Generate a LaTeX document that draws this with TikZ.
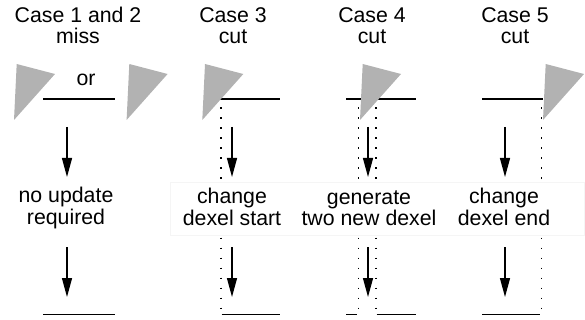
\documentclass[tikz,border=0pt]{standalone}
\usepackage{fontspec}
\setmainfont{Liberation Sans}
\usetikzlibrary{arrows.meta}
\begin{document}
\begin{tikzpicture}[x=1pt,y=-1pt,
  lbl/.style={align=center,font=\fontsize{21.3}{21.3}\selectfont,inner sep=0pt},
  dexel/.style={line width=1.8pt},
  cutline/.style={line width=1.5pt,dash pattern=on 1.5pt off 8.5pt},
  tool/.style={fill=black!30,draw=none},
  flow/.style={line width=1.3pt,-{Triangle[length=19pt,width=10pt]}},
  panel/.style={fill=white,draw=black!4,line width=0.5pt}]
\useasboundingbox (0,0) rectangle (585,320);

% ---- dotted cut lines
\coordinate (c3t) at (221,107.5);   \coordinate (c3b) at (221,312);
\coordinate (c4at) at (358.7,107.5); \coordinate (c4ab) at (358.7,312);
\coordinate (c4bt) at (376,107.5);   \coordinate (c4bb) at (376,312);
\coordinate (c5t) at (541.7,107.5);  \coordinate (c5b) at (541.7,312);
\draw[cutline] (c3t) -- (c3b);
\draw[cutline] (c4at) -- (c4ab);
\draw[cutline] (c4bt) -- (c4bb);
\draw[cutline] (c5t) -- (c5b);

% ---- white panel behind middle labels
\coordinate (pnw) at (170,182);
\coordinate (pse) at (584,235);
\draw[panel] (pnw) rectangle (pse);

% ---- headers
\node[lbl] (h1) at (78,25.5) {Case 1 and 2\\miss};
\node[lbl] (h3) at (233,25.5) {Case 3\\cut};
\node[lbl] (h4) at (372,25.5) {Case 4\\cut};
\node[lbl] (h5) at (515,25.5) {Case 5\\cut};

% ---- top dexels
\coordinate (t1s) at (43,99.2);  \coordinate (t1e) at (115,99.2);
\coordinate (t3s) at (220,99.2); \coordinate (t3e) at (280,99.2);
\coordinate (t4s) at (346,99.2); \coordinate (t4e) at (416,99.2);
\coordinate (t5s) at (482,99.2); \coordinate (t5e) at (543,99.2);
\draw[dexel] (t1s) -- (t1e);
\draw[dexel] (t3s) -- (t3e);
\draw[dexel] (t4s) -- (t4e);
\draw[dexel] (t5s) -- (t5e);
\node[lbl,anchor=base] (or) at (86,86) {or};

% ---- tools (triangles)
\fill[tool] (16.7,64) -- ++(38.3,10) -- ++(-41,46) -- cycle;
\fill[tool] (129.3,64) -- ++(38.3,10) -- ++(-41,46) -- cycle;
\fill[tool] (205,64) -- ++(38.3,10) -- ++(-41,46) -- cycle;
\fill[tool] (362.7,64) -- ++(38.3,10) -- ++(-41,46) -- cycle;
\fill[tool] (545.7,64) -- ++(38.3,10) -- ++(-41,46) -- cycle;

% ---- top arrows
\coordinate (a1t) at (67,127);  \coordinate (a1b) at (67,177);
\coordinate (a3t) at (232,127); \coordinate (a3b) at (232,177);
\coordinate (a4t) at (368,127); \coordinate (a4b) at (368,177);
\coordinate (a5t) at (505,127); \coordinate (a5b) at (505,177);
\draw[flow] (a1t) -- (a1b);
\draw[flow] (a3t) -- (a3b);
\draw[flow] (a4t) -- (a4b);
\draw[flow] (a5t) -- (a5b);

% ---- middle labels
\node[lbl] (m1) at (66,208) {no update\\required};
\node[lbl] (m3) at (232,207) {change\\dexel start};
\node[lbl] (m4) at (369,208) {generate\\two new dexel};
\node[lbl] (m5) at (504,207) {change\\dexel end};

% ---- bottom arrows
\coordinate (b1t) at (67,247);  \coordinate (b1b) at (67,297);
\coordinate (b3t) at (232,247); \coordinate (b3b) at (232,297);
\coordinate (b4t) at (368,247); \coordinate (b4b) at (368,297);
\coordinate (b5t) at (505,247); \coordinate (b5b) at (505,297);
\draw[flow] (b1t) -- (b1b);
\draw[flow] (b3t) -- (b3b);
\draw[flow] (b4t) -- (b4b);
\draw[flow] (b5t) -- (b5b);

% ---- bottom dexels
\coordinate (d1s) at (43,314.5);    \coordinate (d1e) at (115,314.5);
\coordinate (d3s) at (221.7,314.5); \coordinate (d3e) at (280,314.5);
\coordinate (d4as) at (346,314.5);  \coordinate (d4ae) at (356.7,314.5);
\coordinate (d4bs) at (376.7,314.5); \coordinate (d4be) at (416,314.5);
\coordinate (d5s) at (482,314.5);   \coordinate (d5e) at (540,314.5);
\draw[dexel] (d1s) -- (d1e);
\draw[dexel] (d3s) -- (d3e);
\draw[dexel] (d4as) -- (d4ae);
\draw[dexel] (d4bs) -- (d4be);
\draw[dexel] (d5s) -- (d5e);
\end{tikzpicture}
\end{document}
